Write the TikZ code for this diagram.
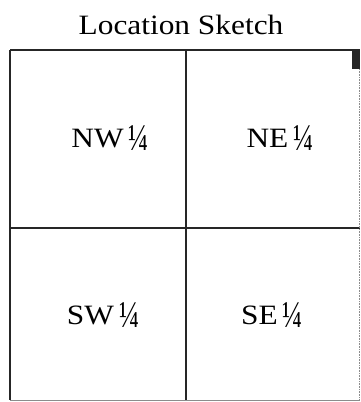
\documentclass[tikz,border=0pt]{standalone}
\usepackage{fontspec}
\setmainfont{Liberation Serif}[FakeStretch=1.12]
\newcommand{\myqtr}{\raisebox{-2.5pt}{\scalebox{0.85}[1.35]{¼}}}
\begin{document}
\begin{tikzpicture}[x=1pt,y=-1pt,
  gridline/.style={line width=1.4pt,black!85},
  faint/.style={line width=0.6pt,black!45},
  lbl/.style={font=\fontsize{28}{32}\selectfont,inner sep=0pt,anchor=center},
  ttl/.style={font=\fontsize{28}{32}\selectfont,inner sep=0pt,anchor=center}]
\useasboundingbox (0,0) rectangle (360,402);
\node[ttl] (title) at (181,25) {Location Sketch};
\coordinate (tl) at (10,50);
\coordinate (tr) at (360,50);
\coordinate (bl) at (10,400);
\coordinate (br) at (360,400);
\coordinate (tm) at (186,50);
\coordinate (bm) at (186,400);
\coordinate (ml) at (10,228);
\coordinate (mr) at (360,228);
\draw[gridline] (tl) -- (tr);
\draw[gridline] (tl) -- (bl);
\draw[faint] (bl) -- (br);
\draw[gridline] (tm) -- (bm);
\draw[gridline] (ml) -- (mr);
\draw[faint,densely dotted] (359,69) -- (359,400);
\fill[black!85] (352,49) rectangle (360,69);
\node[lbl] (nw) at (110,138) {NW\kern5pt\myqtr};
\node[lbl] (ne) at (280,138) {NE\kern5pt\myqtr};
\node[lbl] (sw) at (103,315) {SW\kern5pt\myqtr};
\node[lbl] (se) at (272,315) {SE\kern5pt\myqtr};
\end{tikzpicture}
\end{document}
